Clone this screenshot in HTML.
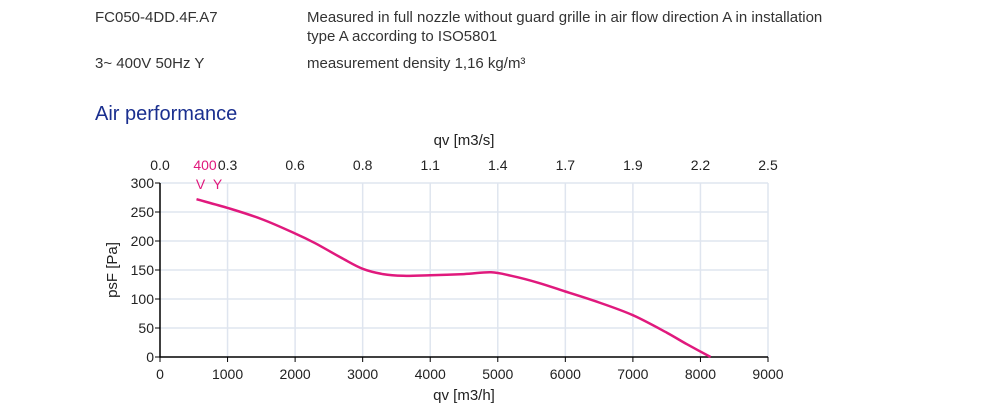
<!DOCTYPE html>
<html><head><meta charset="utf-8">
<style>
body{margin:0;width:1000px;height:418px;background:#fff;font-family:"Liberation Sans",Arial,sans-serif;overflow:hidden;position:relative}
.t{position:absolute;font-size:15px;color:#333;white-space:nowrap;line-height:19px}
</style></head><body>
<div class="t" style="left:95px;top:8px">FC050-4DD.4F.A7</div>
<div class="t" style="left:307px;top:8px">Measured in full nozzle without guard grille in air flow direction A in installation<br>type A according to ISO5801</div>
<div class="t" style="left:95px;top:54px">3~ 400V 50Hz Y</div>
<div class="t" style="left:307px;top:54px">measurement density 1,16 kg/m³</div>
<div class="t" style="left:95px;top:102px;font-size:20px;color:#1a2f8f;line-height:24px">Air performance</div>
<svg id="c" width="1000" height="418" style="position:absolute;left:0;top:0"></svg>
<script>
const xTicks=[0,1000,2000,3000,4000,5000,6000,7000,8000,9000];
const topLabels=["0.0","0.3","0.6","0.8","1.1","1.4","1.7","1.9","2.2","2.5"];
const yTicks=[0,50,100,150,200,250,300];
const flow=[540,1000,1500,2000,2300,2700,3000,3300,3600,4000,4500,4900,5200,5600,6000,6500,7000,7500,7800,8150];
const pressure=[272,257,238,213,196,170,152,143,140,141,143,146,140,128,113,94,72,42,22,0];
const X0=160,X1=768,Y0=357,Y1=183;
const sx=v=>X0+(v-0)/(9000)*(X1-X0);
const sy=v=>Y0-(v/300)*(Y0-Y1);
const svg=document.getElementById('c');const NS='http://www.w3.org/2000/svg';
function mk(t,a,txt){const e=document.createElementNS(NS,t);for(const k in a)e.setAttribute(k,a[k]);if(txt!==undefined)e.textContent=txt;svg.appendChild(e);return e;}
xTicks.forEach((v,i)=>{
 if(i>0){const g=mk('line',{x1:sx(v),x2:sx(v),y1:Y1,y2:Y0,stroke:'#dfe5ef','stroke-width':1.5});
 
 }
 const tk=mk('line',{x1:sx(v),x2:sx(v),y1:Y0,y2:Y0+5,stroke:'#000'});
 
 
 const l=mk('text',{x:sx(v),y:Y0+22,'font-size':14,'text-anchor':'middle',fill:'#222'},v);
 
 
 const tl=mk('text',{x:sx(v),y:170,'font-size':14,'text-anchor':'middle',fill:'#222'},topLabels[i]);
 
 
});
yTicks.forEach(v=>{
 if(v>0){const g=mk('line',{x1:X0,x2:X1,y1:sy(v),y2:sy(v),stroke:'#dfe5ef','stroke-width':1.5});
 
 }
 const tk=mk('line',{x1:X0-5,x2:X0,y1:sy(v),y2:sy(v),stroke:'#000'});
 
 
 const l=mk('text',{x:X0-6,y:sy(v)+5,'font-size':14,'text-anchor':'end',fill:'#222'},v);
 
 
});
const ax=mk('path',{d:`M${X0},${Y1} V${Y0} H${X1}`,fill:'none',stroke:'#000','stroke-width':1.5});


const P=flow.map((f,i)=>[sx(f),sy(pressure[i])]);
let d='M'+P[0][0].toFixed(1)+','+P[0][1].toFixed(1);
for(let i=0;i<P.length-1;i++){
 const p0=P[Math.max(0,i-1)],p1=P[i],p2=P[i+1],p3=P[Math.min(P.length-1,i+2)];
 const c1x=p1[0]+(p2[0]-p0[0])/6,c1y=p1[1]+(p2[1]-p0[1])/6;
 const c2x=p2[0]-(p3[0]-p1[0])/6,c2y=p2[1]-(p3[1]-p1[1])/6;
 d+=` C${c1x.toFixed(1)},${c1y.toFixed(1)} ${c2x.toFixed(1)},${c2y.toFixed(1)} ${p2[0].toFixed(1)},${p2[1].toFixed(1)}`;
}
const cv=mk('path',{d:d,fill:'none',stroke:'#e0197d','stroke-width':2.5,'stroke-linejoin':'round'});


const c1=mk('text',{x:205,y:170,'font-size':14,'text-anchor':'middle',fill:'#e0197d'},'400');


const c2=mk('text',{x:210,y:189,'font-size':14,'text-anchor':'middle',fill:'#e0197d','letter-spacing':'2'},'V Y');


const tt=mk('text',{x:464,y:145,'font-size':15,'text-anchor':'middle',fill:'#222'},'qv [m3/s]');


const bt=mk('text',{x:464,y:400,'font-size':15,'text-anchor':'middle',fill:'#222'},'qv [m3/h]');


const yt=mk('text',{x:0,y:0,'font-size':15,'text-anchor':'middle',fill:'#222',transform:'translate(117,270) rotate(-90)'},'psF [Pa]');


</script>
</body></html>
